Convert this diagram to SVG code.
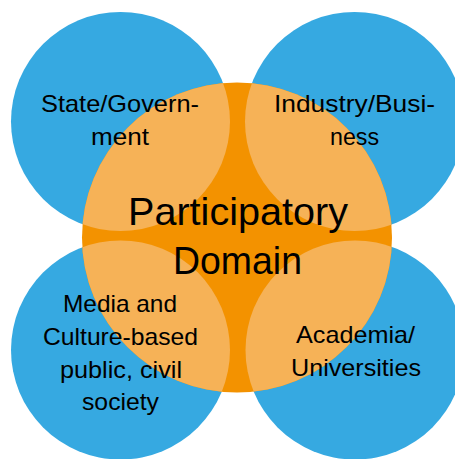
<svg xmlns="http://www.w3.org/2000/svg" width="455" height="459" viewBox="0 0 455 459">
<style>
.blue{fill:#36A9E1}
.core{fill:#F39200}
.lap{fill:#F6B257}
.lbl{font-family:"Liberation Sans",Arial,sans-serif;font-size:24px;fill:#000;text-anchor:middle}
.big{font-family:"Liberation Sans",Arial,sans-serif;font-size:39px;fill:#000;text-anchor:middle}
</style>
<defs>
<clipPath id="oc"><circle cx="237" cy="237.5" r="155"/></clipPath>
</defs>
<rect width="455" height="459" fill="#fff"/>
<g id="state"><circle class="blue" cx="120.5" cy="121.5" r="109.5"/></g>
<g id="industry"><circle class="blue" cx="354.5" cy="121.5" r="109.5"/></g>
<g id="media"><circle class="blue" cx="120.5" cy="350" r="109.5"/></g>
<g id="academia"><circle class="blue" cx="355" cy="350" r="109.5"/></g>
<g id="participatory">
<circle class="core" cx="237" cy="237.5" r="155"/>
<g clip-path="url(#oc)">
<circle class="lap" cx="120.5" cy="121.5" r="109.5"/>
<circle class="lap" cx="354.5" cy="121.5" r="109.5"/>
<circle class="lap" cx="120.5" cy="350" r="109.5"/>
<circle class="lap" cx="355" cy="350" r="109.5"/>
</g>
</g>
<g id="connectors"></g>
<g id="labels">
<text class="lbl" x="120" y="112" textLength="158" lengthAdjust="spacingAndGlyphs">State/Govern-</text>
<text class="lbl" x="120" y="145" textLength="58" lengthAdjust="spacingAndGlyphs">ment</text>
<text class="lbl" x="354.5" y="112" textLength="161" lengthAdjust="spacingAndGlyphs">Industry/Busi-</text>
<text class="lbl" x="354.5" y="145" textLength="49" lengthAdjust="spacingAndGlyphs">ness</text>
<text class="big" x="238" y="225" textLength="220" lengthAdjust="spacingAndGlyphs">Participatory</text>
<text class="big" x="237.5" y="274" textLength="129" lengthAdjust="spacingAndGlyphs">Domain</text>
<text class="lbl" x="120" y="312" textLength="114" lengthAdjust="spacingAndGlyphs">Media and</text>
<text class="lbl" x="120.5" y="345" textLength="155" lengthAdjust="spacingAndGlyphs">Culture-based</text>
<text class="lbl" x="121" y="378" textLength="122" lengthAdjust="spacingAndGlyphs">public, civil</text>
<text class="lbl" x="120.5" y="410" textLength="77" lengthAdjust="spacingAndGlyphs">society</text>
<text class="lbl" x="355.5" y="343" textLength="119" lengthAdjust="spacingAndGlyphs">Academia/</text>
<text class="lbl" x="356" y="376" textLength="130" lengthAdjust="spacingAndGlyphs">Universities</text>
</g>
</svg>
